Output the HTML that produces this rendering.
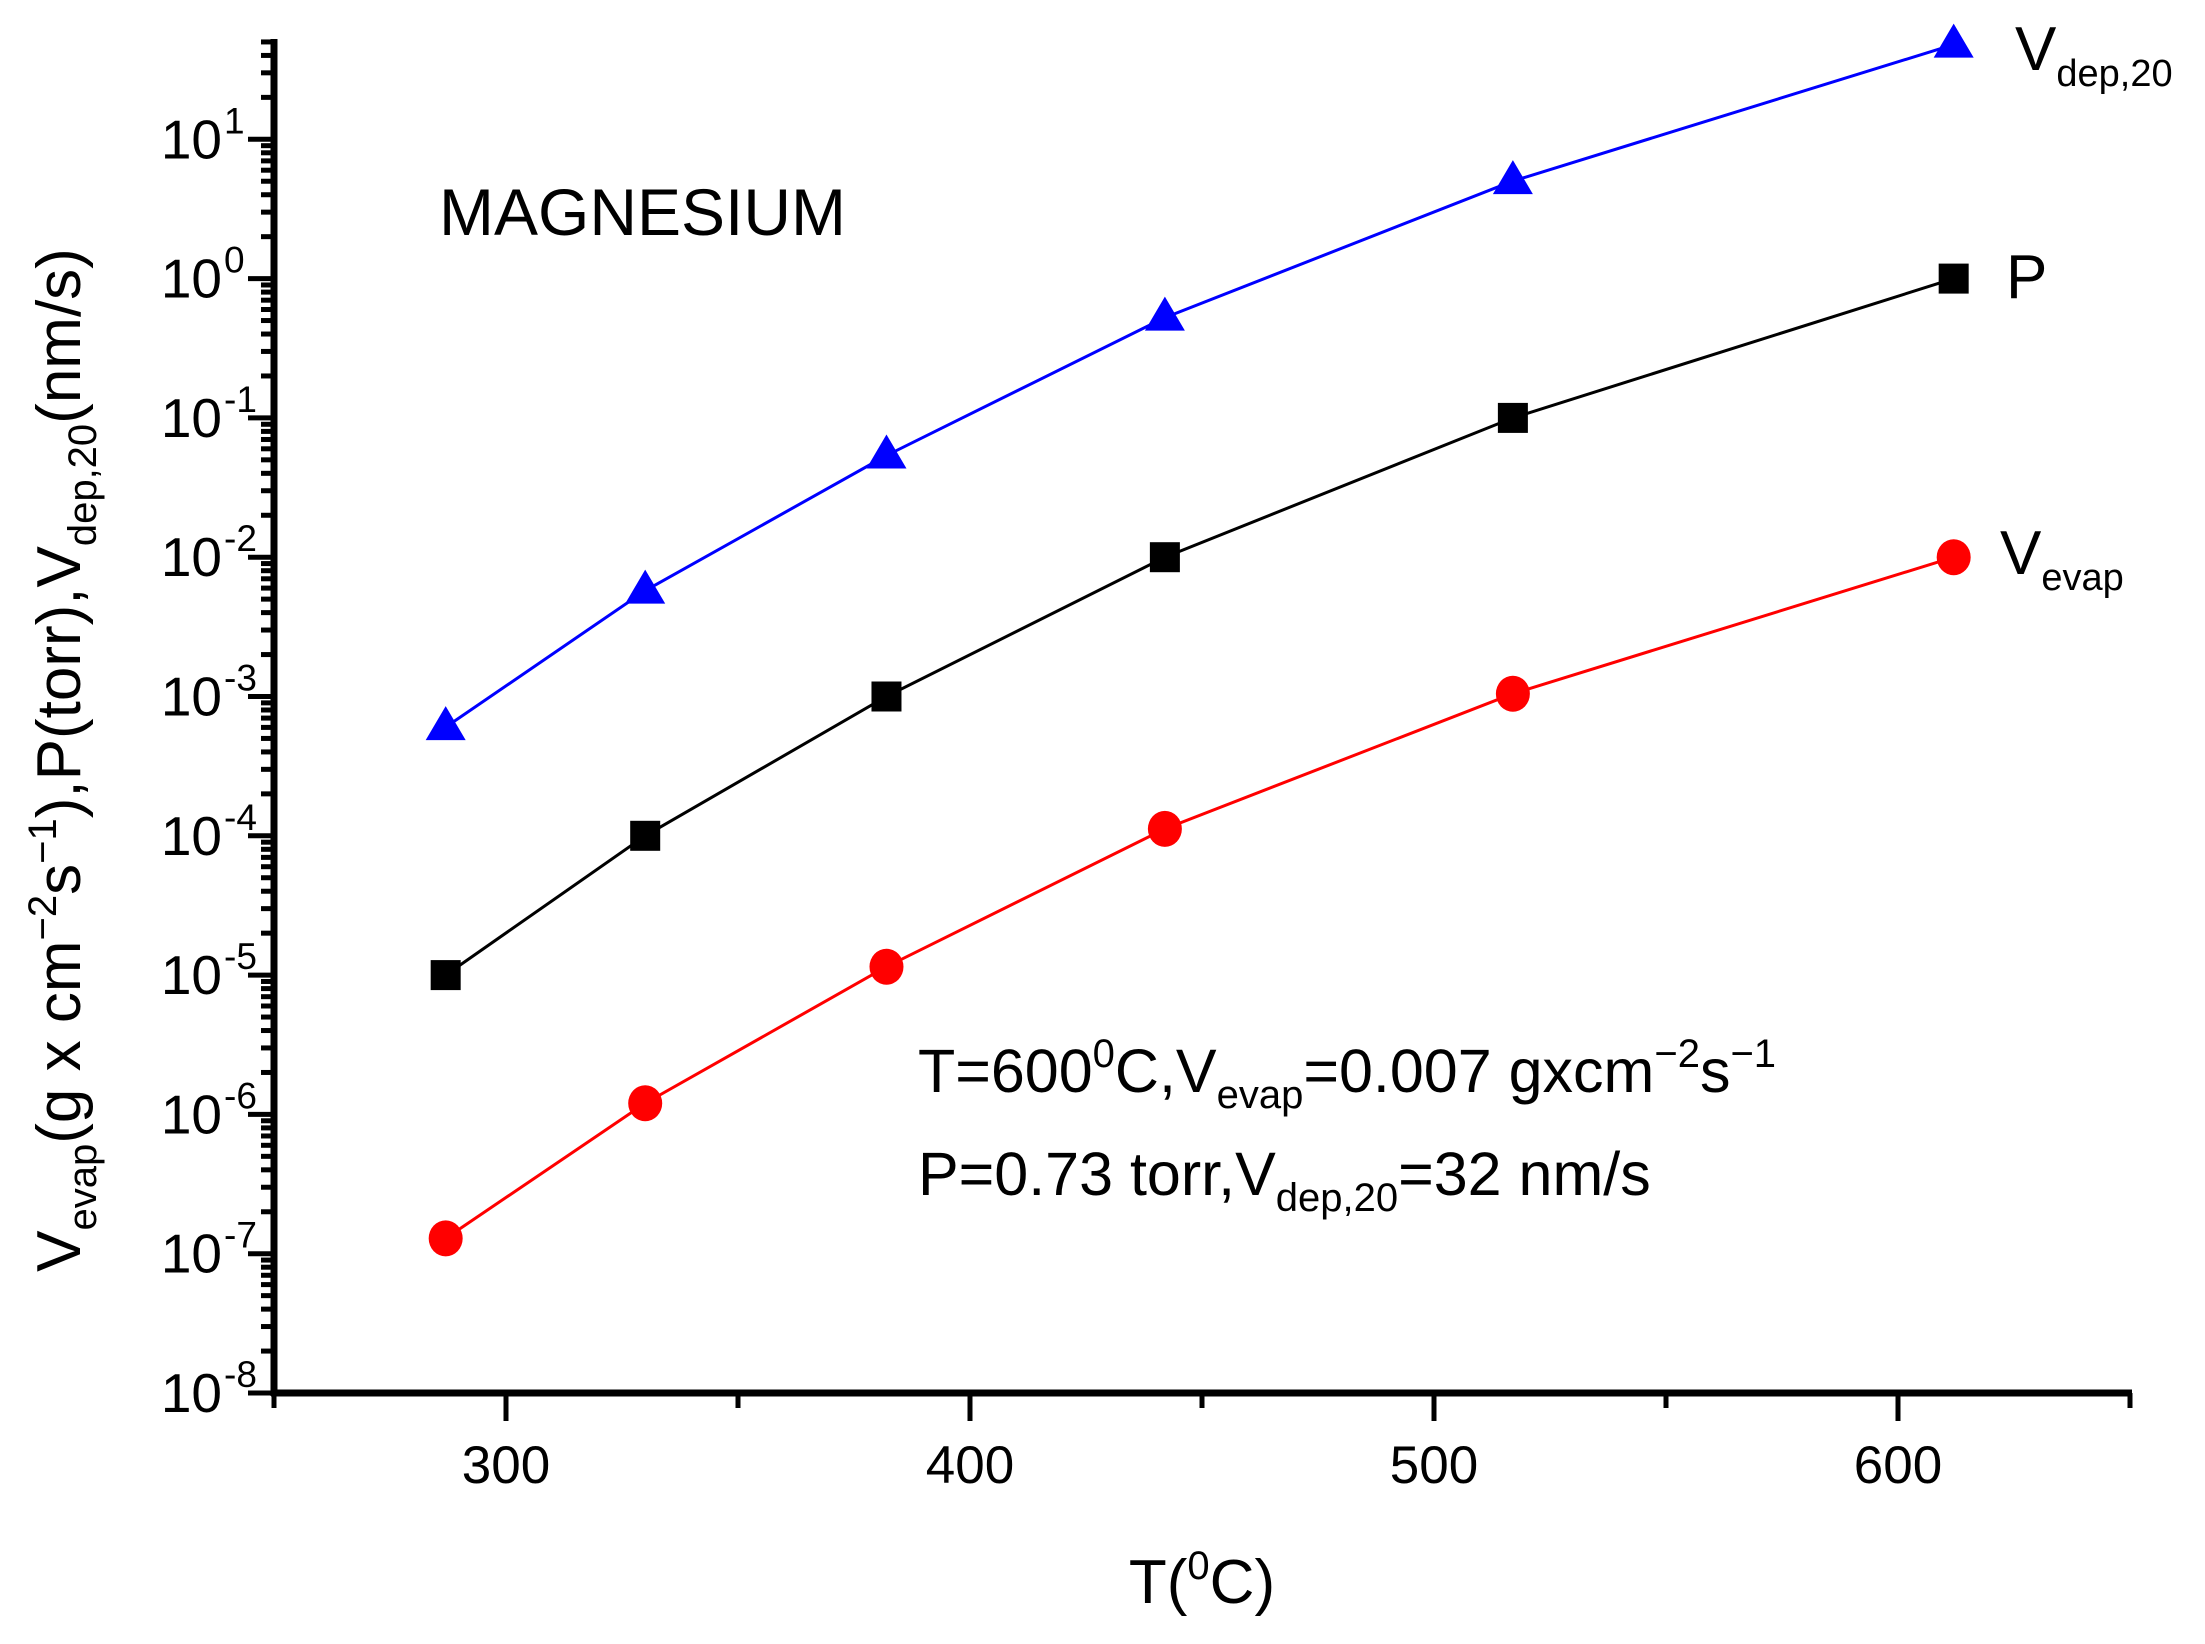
<!DOCTYPE html>
<html><head><meta charset="utf-8"><style>
html,body{margin:0;padding:0;background:#fff;}
svg{display:block;font-family:"Liberation Sans",Arial,sans-serif;}
</style></head><body>
<svg id="s" width="2205" height="1644" viewBox="0 0 2205 1644" xmlns="http://www.w3.org/2000/svg">
<g id="g"></g>
<text x="439" y="235" font-size="66">MAGNESIUM</text>
<text x="918" y="1092" font-size="61">T=600<tspan dy="-25" font-size="40">0</tspan><tspan dy="25">C,V</tspan><tspan dy="16" font-size="40">evap</tspan><tspan dy="-16">=0.007 gxcm</tspan><tspan dy="-25" font-size="40">−2</tspan><tspan dy="25">s</tspan><tspan dy="-25" font-size="40">−1</tspan></text>
<text x="918" y="1195" font-size="61">P=0.73 torr,V<tspan dy="16" font-size="40">dep,20</tspan><tspan dy="-16">=32 nm/s</tspan></text>
<text x="2015" y="70" font-size="62">V<tspan dy="16" font-size="38">dep,20</tspan></text>
<text x="2006" y="298" font-size="62">P</text>
<text x="2000" y="574" font-size="62">V<tspan dy="16" font-size="38">evap</tspan></text>
<text x="1202" y="1603" font-size="62" text-anchor="middle">T(<tspan dy="-24" font-size="40">0</tspan><tspan dy="24">C)</tspan></text>
<text transform="translate(80,760) rotate(-90)" font-size="62" text-anchor="middle">V<tspan dy="16" font-size="40">evap</tspan><tspan dy="-16">(g x cm</tspan><tspan dy="-24" font-size="40">−2</tspan><tspan dy="24">s</tspan><tspan dy="-24" font-size="40">−1</tspan><tspan dy="24">),P(torr),V</tspan><tspan dy="16" font-size="40">dep,20</tspan><tspan dy="-16">(nm/s)</tspan></text>
</svg>
<script>
var g=document.getElementById('g');var h='';
var X0=274,YB=1393,D=139.3;
function xp(t){return 506+(t-300)*4.64;}
function yp(l){return YB-(l+8)*D;}
h+='<line x1="'+X0+'" y1="39" x2="'+X0+'" y2="'+(YB+3)+'" stroke="#000" stroke-width="7"/>';
h+='<line x1="'+(X0-3)+'" y1="'+YB+'" x2="2132" y2="'+YB+'" stroke="#000" stroke-width="7"/>';
for(var e=-8;e<=1;e++){var y=yp(e);
h+='<line x1="'+(X0-26)+'" y1="'+y+'" x2="'+X0+'" y2="'+y+'" stroke="#000" stroke-width="5"/>';
h+='<text x="222" y="'+(y+19)+'" font-size="55" text-anchor="end">10</text><text x="224" y="'+(y-6)+'" font-size="37">'+(e<0?'-'+(-e):e)+'</text>';
for(var m=2;m<=9;m++){var ym=yp(e+Math.log10(m));if(ym<39)break;
h+='<line x1="'+(X0-13)+'" y1="'+ym+'" x2="'+X0+'" y2="'+ym+'" stroke="#000" stroke-width="5"/>';}}
for(var t=250;t<=650;t+=50){var x=xp(t),maj=(t%100==0);
h+='<line x1="'+x+'" y1="'+YB+'" x2="'+x+'" y2="'+(YB+(maj?28:15))+'" stroke="#000" stroke-width="5"/>';
if(maj)h+='<text x="'+x+'" y="1483" font-size="53" text-anchor="middle">'+t+'</text>';}
var T=[287,330,382,442,517,612];
var S=[{c:'#0000ff',v:[-3.22,-2.24,-1.27,-0.28,0.70,1.68],m:'t'},{c:'#000',v:[-5,-4,-3,-2,-1,0],m:'s'},{c:'#ff0000',v:[-6.89,-5.92,-4.94,-3.95,-2.98,-2.0],m:'c'}];
S.forEach(function(s){var pts=T.map(function(t,i){return xp(t)+','+yp(s.v[i]);}).join(' ');
h+='<polyline points="'+pts+'" fill="none" stroke="'+s.c+'" stroke-width="3"/>';
T.forEach(function(t,i){var x=xp(t),y=yp(s.v[i]);
if(s.m=='t')h+='<polygon points="'+x+','+(y-21)+' '+(x-20)+','+(y+13)+' '+(x+20)+','+(y+13)+'" fill="'+s.c+'"/>';
else if(s.m=='s')h+='<rect x="'+(x-15)+'" y="'+(y-15)+'" width="30" height="30" fill="'+s.c+'"/>';
else h+='<ellipse cx="'+x+'" cy="'+y+'" rx="17" ry="18" fill="'+s.c+'"/>';});});
g.innerHTML=h;
</script>
</body></html>
